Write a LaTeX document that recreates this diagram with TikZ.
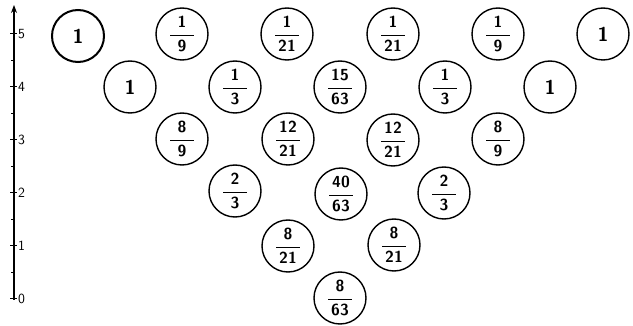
\documentclass[tikz,border=0pt]{standalone}
\usepackage{amsmath}
\usetikzlibrary{arrows.meta}
\newcommand{\fr}[2]{$\genfrac{}{}{1.1pt}{0}{\text{\makebox[24pt]{\sffamily\bfseries #1}}}{\text{\makebox[24pt]{\sffamily\bfseries #2}}}$}
\begin{document}
\begin{tikzpicture}[x=1pt,y=-1pt,
  cell/.style={circle, draw, line width=1.4pt, minimum size=52pt, inner sep=0pt,
    font=\sffamily\fontsize{16}{18}\selectfont},
  one/.style={cell, font=\sffamily\bfseries\fontsize{20}{22}\selectfont},
  axlabel/.style={anchor=west, inner sep=0pt, font=\sffamily\fontsize{14}{16}\selectfont}]
\useasboundingbox (0,0) rectangle (633,326);
% axis
\coordinate (base) at (14,300);
\coordinate (top) at (14,5);
\draw[line width=1.2pt, -{Stealth[length=8pt,width=6pt]}] (base) -- (top);
\foreach \i in {0,...,5} {
  \draw[line width=1pt] (10,{299-53*\i}) -- (17,{299-53*\i});
  \node[axlabel] (lab\i) at (18,{299-53*\i}) {\i};
}
\foreach \i in {0,...,4} {
  \draw[line width=0.6pt] (11,{272.5-53*\i}) -- (15,{272.5-53*\i});
}
% row 5
\node[one, line width=2pt] (n50) at (78,36) {1};
\node[cell] (n51) at (182,34) {\fr{1}{9}};
\node[cell] (n52) at (287,34) {\fr{1}{21}};
\node[cell] (n53) at (393,34) {\fr{1}{21}};
\node[cell] (n54) at (498,34) {\fr{1}{9}};
\node[one] (n55) at (603,34) {1};
% row 4
\node[one] (n40) at (130,87) {1};
\node[cell] (n41) at (235,87) {\fr{1}{3}};
\node[cell] (n42) at (340,87) {\fr{15}{63}};
\node[cell] (n43) at (445,87) {\fr{1}{3}};
\node[one] (n44) at (550,87) {1};
% row 3
\node[cell] (n30) at (182,139) {\fr{8}{9}};
\node[cell] (n31) at (288,139) {\fr{12}{21}};
\node[cell] (n32) at (393,140) {\fr{12}{21}};
\node[cell] (n33) at (498,139) {\fr{8}{9}};
% row 2
\node[cell] (n20) at (235,191) {\fr{2}{3}};
\node[cell] (n21) at (341,194) {\fr{40}{63}};
\node[cell] (n22) at (444,193) {\fr{2}{3}};
% row 1
\node[cell] (n10) at (288,246) {\fr{8}{21}};
\node[cell] (n11) at (394,245) {\fr{8}{21}};
% row 0
\node[cell] (n00) at (340,298) {\fr{8}{63}};
\end{tikzpicture}
\end{document}
